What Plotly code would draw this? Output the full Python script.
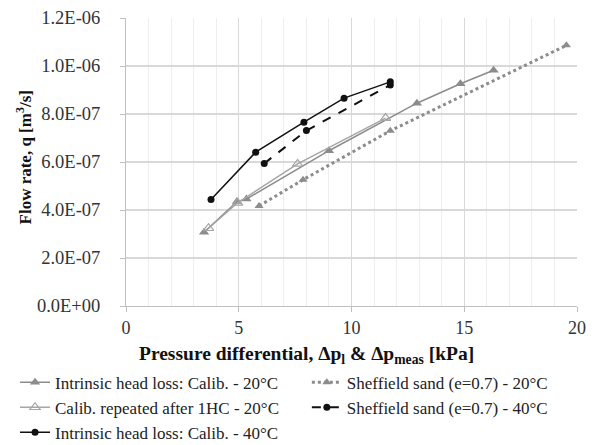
import plotly.graph_objects as go

# ---- data ----
int20_x = [3.46, 4.92, 5.34, 9.00, 12.9, 14.83, 16.3]
int20_y = [3.07e-7, 4.35e-7, 4.46e-7, 6.47e-7, 8.45e-7, 9.26e-7, 9.82e-7]

rep20_x = [3.66, 4.95, 7.61, 11.51]
rep20_y = [3.24e-7, 4.30e-7, 5.92e-7, 7.83e-7]

int40_x = [3.77, 5.75, 7.89, 9.67, 11.72]
int40_y = [4.44e-7, 6.41e-7, 7.66e-7, 8.66e-7, 9.34e-7]

sh20_x = [5.9, 7.85, 11.72, 19.53]
sh20_y = [4.17e-7, 5.26e-7, 7.30e-7, 1.086e-6]

sh40_x = [6.13, 8.0, 11.72]
sh40_y = [5.94e-7, 7.31e-7, 9.21e-7]

y_tickvals = [0, 2e-7, 4e-7, 6e-7, 8e-7, 1.0e-6, 1.2e-6]
y_ticktext = ["0.0E+00", "2.0E-07", "4.0E-07", "6.0E-07", "8.0E-07", "1.0E-06", "1.2E-06"]
x_tickvals = [0, 5, 10, 15, 20]

names = [
    "Intrinsic head loss: Calib. - 20°C",
    "Calib. repeated after 1HC - 20°C",
    "Intrinsic head loss: Calib. - 40°C",
    "Sheffield sand (e=0.7) - 20°C",
    "Sheffield sand (e=0.7) - 40°C",
]

FONT = "Liberation Serif, Times New Roman, serif"

fig = go.Figure()
fig.add_trace(go.Scatter(x=sh20_x, y=sh20_y, name=names[3], legend="legend2",
                         mode="lines+markers", legendrank=1,
                         line=dict(color="#8c8c8c", width=3, dash="dot"),
                         marker=dict(symbol="triangle-up", size=8, color="#8c8c8c")))
fig.add_trace(go.Scatter(x=int20_x, y=int20_y, name=names[0], legend="legend",
                         mode="lines+markers", legendrank=1,
                         line=dict(color="#8c8c8c", width=1.5),
                         marker=dict(symbol="triangle-up", size=9, color="#8c8c8c")))
fig.add_trace(go.Scatter(x=rep20_x, y=rep20_y, name=names[1], legend="legend",
                         mode="lines+markers", legendrank=2,
                         line=dict(color="#a6a6a6", width=1.5),
                         marker=dict(symbol="triangle-up-open", size=9, color="#a6a6a6",
                                     line=dict(width=1.2))))
fig.add_trace(go.Scatter(x=int40_x, y=int40_y, name=names[2], legend="legend",
                         mode="lines+markers", legendrank=3,
                         line=dict(color="#111111", width=1.5),
                         marker=dict(symbol="circle", size=7, color="#111111")))
fig.add_trace(go.Scatter(x=sh40_x, y=sh40_y, name=names[4], legend="legend2",
                         mode="lines+markers", legendrank=2,
                         line=dict(color="#111111", width=2, dash="dash"),
                         marker=dict(symbol="circle", size=7, color="#111111")))

legend_common = dict(font=dict(family=FONT, size=17, color="#222"),
                     bgcolor="rgba(0,0,0,0)", itemwidth=30, tracegroupgap=0,
                     xanchor="left", yanchor="top", orientation="v",
                     xref="container", yref="container")

fig.update_layout(
    width=586, height=437,
    margin=dict(l=118, r=17, t=10, b=139, autoexpand=False),
    paper_bgcolor="white", plot_bgcolor="white",
    font=dict(family=FONT, size=16, color="#222"),
    legend=dict(x=0.012, y=0.184, **legend_common),
    legend2=dict(x=0.51, y=0.184, **legend_common),
    xaxis=dict(range=[0, 20], tickvals=x_tickvals, showgrid=True, gridcolor="#d9d9d9",
               gridwidth=1, zeroline=False, showline=True, linecolor="#bfbfbf",
               ticks="outside", ticklen=5, tickcolor="#bfbfbf", automargin=False,
               minor=dict(dtick=1, showgrid=True, gridcolor="#eeeeee", gridwidth=1),
               tickfont=dict(family=FONT, size=18, color="#333")),
    yaxis=dict(range=[0, 1.2e-6], tickvals=y_tickvals, ticktext=y_ticktext,
               showgrid=True, gridcolor="#d9d9d9", gridwidth=1.5, zeroline=False,
               showline=True, linecolor="#bfbfbf", ticks="outside", ticklen=5,
               tickcolor="#bfbfbf", automargin=False, ticklabelstandoff=16,
               tickfont=dict(family=FONT, size=18.5, color="#333")),
    annotations=[
        dict(text="<b>Pressure differential, Δp<sub>l</sub> &amp; Δp<sub>meas</sub> [kPa]</b>",
             xref="paper", yref="paper", x=0.401, y=-0.17, xanchor="center", yanchor="middle",
             showarrow=False, font=dict(family=FONT, size=19.5, color="#111")),
        dict(text="<b>Flow rate, q [m<sup>3</sup>/s]</b>", textangle=-90,
             xref="paper", yref="paper", x=-0.226, y=0.516, xanchor="center", yanchor="middle",
             showarrow=False, font=dict(family=FONT, size=17, color="#111")),
    ],
)

fig.write_html("out.html")
